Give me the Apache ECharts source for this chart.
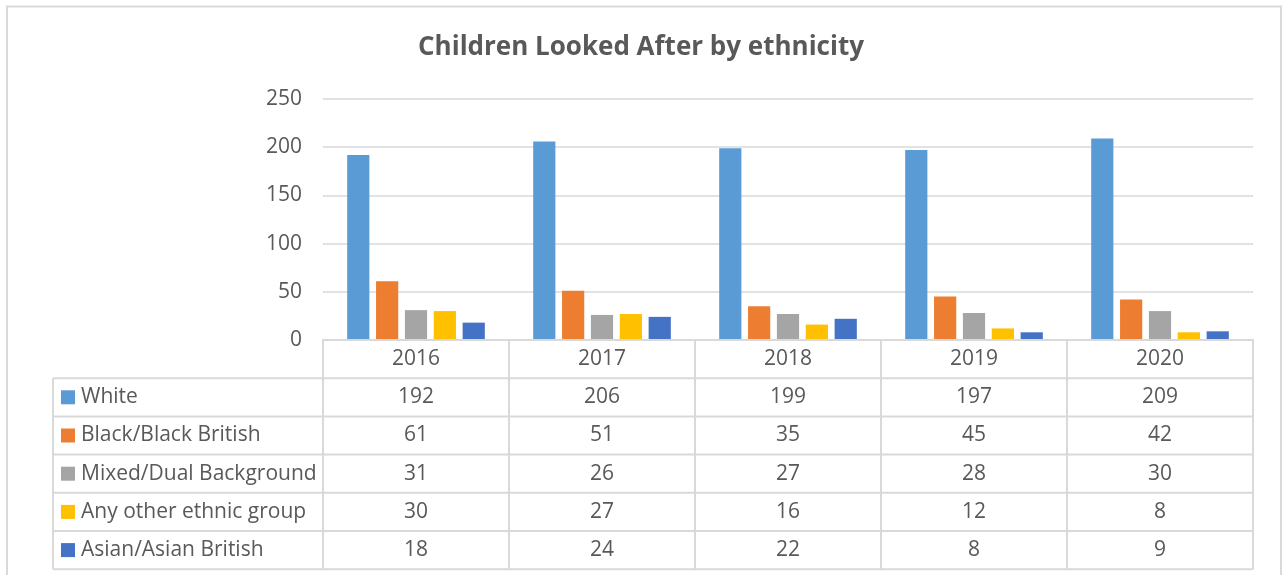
<!DOCTYPE html>
<html><head><meta charset="utf-8">
<script src="https://cdn.jsdelivr.net/npm/echarts@6/dist/echarts.min.js"></script>
<style>html,body{margin:0;padding:0;background:#fff}#c{width:1282px;height:575px}</style>
</head><body><div id="c"></div>
<script>
const years = ['2016', '2017', '2018', '2019', '2020'];
const seriesNames = ['White', 'Black/Black British', 'Mixed/Dual Background', 'Any other ethnic group', 'Asian/Asian British'];
const white = [192, 206, 199, 197, 209];
const black = [61, 51, 35, 45, 42];
const mixed = [31, 26, 27, 28, 30];
const other = [30, 27, 16, 12, 8];
const asian = [18, 24, 22, 8, 9];
const yMin = 0, yMax = 250, yStep = 50;
const colors = ['#5B9BD5', '#ED7D31', '#A5A5A5', '#FFC000', '#4472C4'];
const allValues = [white, black, mixed, other, asian];

const FONT = '"Open Sans", "Liberation Sans", sans-serif';
const TXT = '#595959';
const LINE = '#D9D9D9';

const chart = echarts.init(document.getElementById('c'), null, {renderer: 'canvas'});
const option = {
  animation: false,
  backgroundColor: '#fff',
  title: {
    text: 'Children Looked After by ethnicity',
    left: 'center', top: 30,
    textStyle: {fontFamily: FONT, fontWeight: 'bold', fontSize: 26, color: TXT}
  },
  grid: {left: 323, right: 29, top: 99, bottom: 235},
  xAxis: {
    type: 'category', data: years,
    axisLine: {show: true, lineStyle: {color: LINE, width: 2}},
    axisTick: {show: false}, axisLabel: {show: false}, splitLine: {show: false}
  },
  yAxis: {
    type: 'value', min: yMin, max: yMax, interval: yStep,
    axisLine: {show: false}, axisTick: {show: false},
    axisLabel: {fontFamily: FONT, fontSize: 21, color: TXT, margin: 21},
    splitLine: {lineStyle: {color: LINE, width: 1.5}}
  },
  series: seriesNames.map((n, i) => ({
    name: n, type: 'bar', data: allValues[i],
    itemStyle: {color: colors[i]},
    barGap: '30%', barCategoryGap: '26%'
  }))
};
chart.setOption(option);

const c0 = chart.convertToPixel({xAxisIndex: 0}, years[0]);
const c1 = chart.convertToPixel({xAxisIndex: 0}, years[1]);
const bw = c1 - c0;
const left = c0 - bw / 2;
const right = left + bw * years.length;
const yBase = chart.convertToPixel({yAxisIndex: 0}, yMin);
const rowH = 38.2;
const tableLeft = 53;
const bottom = yBase + rowH * (seriesNames.length + 1);
const els = [];
const line = (x1, y1, x2, y2) => els.push({type: 'line', shape: {x1, y1, x2, y2}, style: {stroke: LINE, lineWidth: 2}, z: 10});

// outer frame
els.push({type: 'rect', shape: {x: 7, y: 6.5, width: 1274, height: 640}, style: {fill: null, stroke: LINE, lineWidth: 2}, z: 1});

// horizontal lines
line(left, yBase, right, yBase);
for (let r = 1; r <= seriesNames.length + 1; r++) line(tableLeft, yBase + rowH * r, right, yBase + rowH * r);
// vertical lines
for (let i = 0; i <= years.length; i++) line(left + bw * i, yBase, left + bw * i, bottom);
line(tableLeft, yBase + rowH, tableLeft, bottom);

const TF = '21px ' + FONT;
// header
years.forEach((y, i) => els.push({type: 'text', x: left + bw * (i + 0.5), y: yBase + rowH / 2, style: {text: y, fill: TXT, font: TF, align: 'center', verticalAlign: 'middle'}, z: 11}));
// rows
seriesNames.forEach((n, r) => {
  const cy = yBase + rowH * (r + 1.5);
  els.push({type: 'rect', shape: {x: 61, y: cy - 7, width: 14, height: 14}, style: {fill: colors[r]}, z: 11});
  els.push({type: 'text', x: 81, y: cy, style: {text: n, fill: TXT, font: TF, align: 'left', verticalAlign: 'middle'}, z: 11});
  allValues[r].forEach((v, i) => els.push({type: 'text', x: left + bw * (i + 0.5), y: cy, style: {text: String(v), fill: TXT, font: TF, align: 'center', verticalAlign: 'middle'}, z: 11}));
});
chart.setOption({graphic: {elements: els}});
</script>
</body></html>
